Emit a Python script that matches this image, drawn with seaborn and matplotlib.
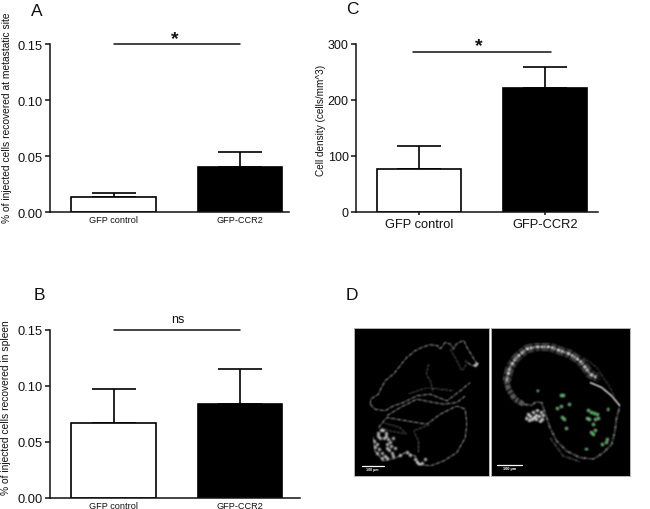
import numpy as np
import matplotlib
matplotlib.use("Agg")
import matplotlib.pyplot as plt
import seaborn as sns

sns.set_style("ticks")
plt.rcParams['font.family'] = ['Liberation Sans', 'DejaVu Sans']

W, H = 650, 510
INK = '#111111'

categories = ['GFP control', 'GFP-CCR2']

metastatic_means = [0.013, 0.0405]
metastatic_tops = [0.017, 0.054]
spleen_means = [0.0665, 0.0834]
spleen_tops = [0.0971, 0.115]
density_means = [76, 222]
density_tops = [118, 259]

fraction_ticks = [0.00, 0.05, 0.10, 0.15]
density_ticks = [0, 100, 200, 300]

# micrograph traces, in zoomed image coordinates
left_upper_edge = [(60, 240), (62, 225), (85, 210), (92, 195), (105, 170), (130, 150), (150, 125), (170, 100),
                   (195, 80), (215, 70), (240, 62), (262, 65), (270, 75), (285, 55), (300, 60), (310, 75),
                   (318, 60), (340, 48), (350, 70), (365, 95), (382, 122), (365, 125), (345, 110)]
left_upper_base = [(60, 240), (75, 255), (105, 260), (130, 245), (160, 235), (200, 215), (240, 210), (290, 230),
                   (330, 200), (360, 175)]
left_mid_band = [(110, 275), (150, 250), (200, 225), (250, 235), (280, 240), (320, 235), (345, 215)]
left_low_band = [(85, 310), (110, 280), (170, 290), (230, 300), (270, 270), (320, 245), (345, 255)]
left_lower_edge = [(70, 340), (75, 380), (100, 410), (140, 400), (165, 385), (195, 395), (205, 420), (240, 425),
                   (280, 410), (320, 385), (345, 340), (350, 300), (345, 255)]
left_inner_a = [(205, 385), (205, 350), (190, 320), (240, 300)]
left_inner_b = [(235, 120), (228, 150), (240, 170), (250, 205)]
left_inner_c = [(175, 210), (230, 190), (310, 200)]
left_inner_d = [(100, 295), (150, 310), (170, 330), (120, 320), (85, 310)]
left_inner_e = [(300, 75), (320, 110), (335, 140), (350, 120)]
left_bright = [(85, 325), (92, 318), (100, 316), (107, 325), (108, 335), (103, 342), (90, 342), (84, 335),
               (115, 345), (120, 352), (112, 358), (122, 365), (110, 372), (118, 378), (95, 385), (88, 375),
               (105, 395), (112, 402), (125, 385), (80, 360), (72, 350), (76, 368), (82, 385), (95, 400),
               (130, 395), (135, 370), (128, 340), (195, 405), (200, 412), (215, 415), (225, 405), (208, 420),
               (150, 392), (170, 382), (180, 392), (375, 122), (380, 118)]
left_scale = [(35, 425), (102, 425)]

right_top_band = [(60, 170), (70, 130), (90, 100), (120, 75), (150, 68), (190, 68), (215, 78), (250, 90), (280, 110),
                  (300, 135), (310, 150), (330, 160)]
right_left_band = [(60, 170), (66, 195), (85, 225), (110, 240)]
right_low_edge = [(110, 240), (135, 243), (150, 232), (165, 235), (175, 265), (190, 310), (210, 350), (240, 380),
                  (280, 400), (320, 405), (350, 385), (375, 360), (385, 320), (390, 280), (400, 245)]
right_thin_edge = [(310, 175), (345, 190), (375, 215), (400, 245)]
right_outer = [(290, 100), (330, 130), (370, 190), (385, 220)]
right_outer_low = [(190, 340), (230, 395), (280, 412)]
right_blob = [(130, 275), (138, 262), (150, 258), (162, 262), (168, 272), (160, 290), (148, 285), (135, 285),
              (148, 272), (125, 268), (142, 278), (156, 276), (118, 280), (128, 288), (165, 285)]
right_green = [(150, 197), (222, 212), (229, 213), (248, 238), (223, 245), (212, 250), (226, 278), (232, 285),
               (303, 258), (312, 262), (322, 265), (330, 270), (300, 282), (308, 285), (325, 283), (335, 282),
               (318, 300), (312, 322), (325, 318), (318, 328), (238, 310), (298, 375), (347, 360), (358, 352),
               (362, 345), (365, 255)]
right_scale = [(30, 421), (105, 421)]


def soften(img, dpi):
    # light blur, the micrograph in the reference is a scaled jpeg
    pad = 3
    out = np.pad(img, ((pad, pad), (pad, pad), (0, 0)))
    for axis in [0, 1]:
        out = 0.25 * np.roll(out, 1, axis=axis) + 0.5 * out + 0.25 * np.roll(out, -1, axis=axis)
    return out, -pad, -pad


def px_axes(fig, left, right, top, bottom):
    return fig.add_axes([left / W, 1 - bottom / H, (right - left) / W, (bottom - top) / H])


def bar_panel(fig, box, means, tops, ticks, ymax, fmt, xlim, tick_size, cat_size, cat_tick):
    ax = px_axes(fig, *box)
    sns.barplot(x=categories, y=means, hue=categories, palette=['white', 'black'], legend=False, width=0.665,
                edgecolor='black', linewidth=1.2, errorbar=None, ax=ax, zorder=2)
    err = np.array(tops) - np.array(means)
    ax.errorbar([0, 1], means, yerr=[np.zeros(2), err], fmt='none', ecolor='black', elinewidth=1.2, capsize=15.5,
                capthick=1.2, zorder=1)
    ax.set_xlim(*xlim)
    ax.set_ylim(0, ymax)
    ax.set_yticks(ticks)
    ax.set_yticklabels([fmt % t for t in ticks], fontsize=tick_size, color=INK)
    ax.tick_params(axis='y', length=3.6, width=1.1, pad=1.5, color=INK)
    ax.tick_params(axis='x', length=cat_tick, width=1.1, pad=2.4, labelsize=cat_size, color=INK, labelcolor=INK)
    for side in ['top', 'right']:
        ax.spines[side].set_visible(False)
    for side in ['left', 'bottom']:
        ax.spines[side].set_linewidth(1.1)
        ax.spines[side].set_color(INK)
    return ax


def trace(ax, pts, color='#c8c8c8', lw=0.8, alpha=0.9, dashes=(0.7, 0.9, 1.6, 0.8, 0.4, 1.6), glow=0.2):
    xy = np.array(pts)
    under, = ax.plot(xy[:, 0], xy[:, 1], color=color, lw=lw * 1.2, alpha=alpha * glow)
    over, = ax.plot(xy[:, 0], xy[:, 1], color=color, lw=lw, alpha=alpha, linestyle=(0, dashes),
                    dash_capstyle='butt')
    under.set_agg_filter(soften)
    over.set_agg_filter(soften)


def spots(ax, pts, color='white', size=3):
    xy = np.array(pts)
    sns.scatterplot(x=xy[:, 0], y=xy[:, 1], color=color, s=size, linewidth=0, ax=ax, legend=False)
    ax.collections[-1].set_agg_filter(soften)


def micro_panel(fig, box, xlim):
    ax = px_axes(fig, *box)
    ax.set_facecolor('black')
    ax.set_xlim(*xlim)
    ax.set_ylim(455, 12)
    ax.set_xticks([])
    ax.set_yticks([])
    for s in ax.spines.values():
        s.set_color('#b5b5b5')
        s.set_linewidth(0.7)
    return ax


fig = plt.figure(figsize=(W / 100, H / 100), dpi=100)

ax_a = bar_panel(fig, (50, 289, 45, 213), metastatic_means, metastatic_tops, fraction_ticks, 0.15, '%.2f',
                 (-0.502, 1.387), 9.3, 6.6, 0)
ax_a.plot([0, 1], [0.15, 0.15], color=INK, lw=1.1, clip_on=False)
ax_a.text(0.485, 0.1545, '*', ha='center', va='center', fontsize=14, fontweight='bold', color=INK, clip_on=False)
ax_a.set_ylabel('% of injected cells recovered at metastatic site', fontsize=7.4, va='center', color=INK)
ax_a.yaxis.set_label_coords(7 / W, 1 - 117.5 / H, transform=fig.transFigure)

ax_b = bar_panel(fig, (50, 300, 330.5, 498.5), spleen_means, spleen_tops, fraction_ticks, 0.15, '%.2f',
                 (-0.502, 1.474), 9.3, 6.6, 0)
ax_b.plot([0, 1], [0.15, 0.15], color=INK, lw=1.1, clip_on=False)
ax_b.text(0.51, 0.159, 'ns', ha='center', va='center', fontsize=9, color=INK, clip_on=False)
ax_b.set_ylabel('% of injected cells recovered in spleen', fontsize=7.4, va='center', color=INK)
ax_b.yaxis.set_label_coords(6 / W, 1 - 408 / H, transform=fig.transFigure)

ax_c = bar_panel(fig, (355.7, 598, 45, 212.7), density_means, density_tops, density_ticks, 300, '%d',
                 (-0.504, 1.42), 9, 9.3, 2.2)
ax_c.plot([-0.05, 1.05], [286, 286], color=INK, lw=1.1)
ax_c.text(0.47, 296.5, '*', ha='center', va='center', fontsize=14, fontweight='bold', color=INK, clip_on=False)
ax_c.set_ylabel('Cell density (cells/mm^3)', fontsize=7.2, va='center', color=INK)
ax_c.yaxis.set_label_coords(321 / W, 1 - 120 / H, transform=fig.transFigure)

for letter, x, y in [('A', 37, 11), ('B', 39, 296), ('C', 352, 9), ('D', 352, 296)]:
    fig.text(x / W, 1 - y / H, letter, fontsize=12.5, ha='center', va='center', color=INK)

ax_l = micro_panel(fig, (354, 489, 329, 477), (12, 416))
for pts in [left_upper_edge, left_upper_base, left_mid_band, left_low_band, left_lower_edge]:
    trace(ax_l, pts, lw=0.7)
for pts in [left_inner_a, left_inner_b, left_inner_c, left_inner_d, left_inner_e]:
    trace(ax_l, pts, color='#777777', lw=0.5)
spots(ax_l, left_bright, size=4)
ax_l.plot(*np.array(left_scale).T, color='white', lw=0.9)
ax_l.text(68, 434, '100 µm', color='white', fontsize=2.6, ha='center', va='center', fontweight='bold')

ax_r = micro_panel(fig, (490.5, 630, 329, 477), (12, 430))
trace(ax_r, right_top_band, color='#707070', lw=5.5, alpha=0.5, dashes=(0.5, 0.3, 0.9, 0.4), glow=0.3)
trace(ax_r, right_top_band, color='#dddddd', lw=1.6, dashes=(0.9, 0.6, 0.4, 0.9, 1.3, 0.7))
trace(ax_r, right_left_band, color='#8a8a8a', lw=3.5, alpha=0.6, dashes=(0.5, 0.4, 0.9, 0.4))
trace(ax_r, right_low_edge, color='#a0a0a0', lw=1.0)
trace(ax_r, right_thin_edge, color='#dcdcdc', lw=0.8, dashes=(6, 0.2), glow=0.6)
trace(ax_r, right_outer, color='#5a5a5a', lw=0.5)
trace(ax_r, right_outer_low, color='#5a5a5a', lw=0.8)
spots(ax_r, right_blob, color='#eeeeee', size=5)
spots(ax_r, right_green, color='#45f05a', size=4.5)
ax_r.plot(*np.array(right_scale).T, color='white', lw=0.9)
ax_r.text(68, 431, '100 µm', color='white', fontsize=2.8, ha='center', va='center', fontweight='bold')

fig.savefig('out.png', dpi=100)
